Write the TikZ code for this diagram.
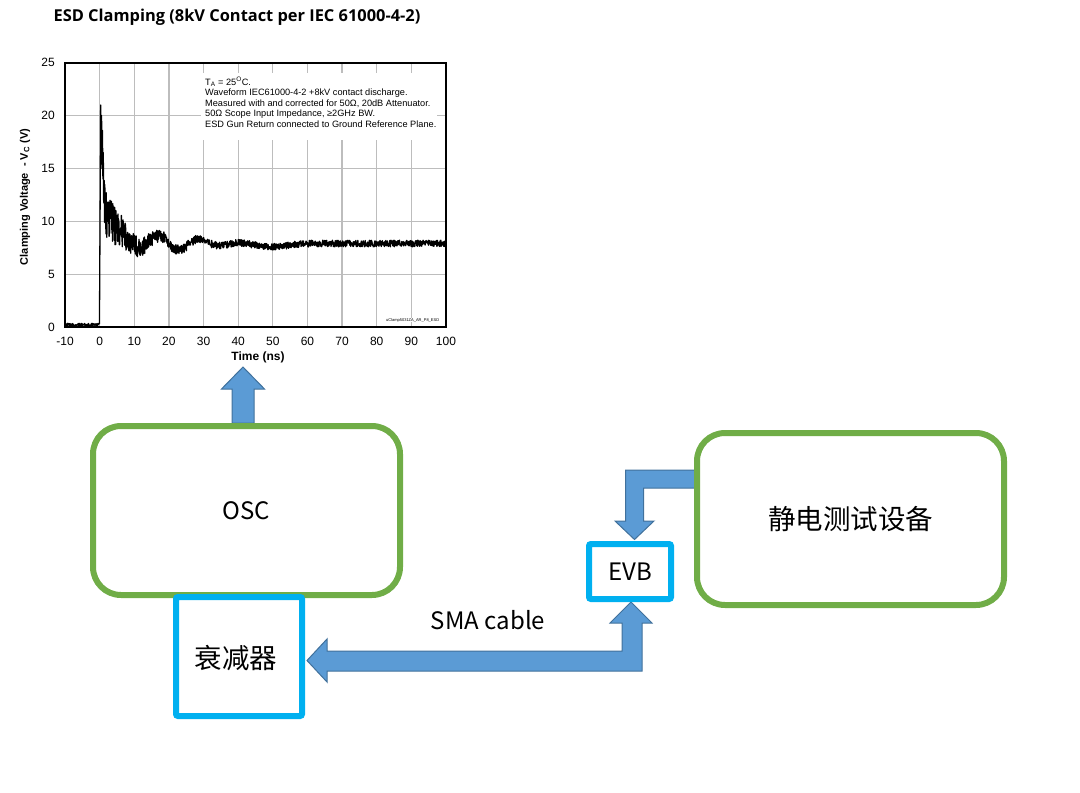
\documentclass[tikz,border=0pt]{standalone}
\usepackage{fontspec}
\setmainfont{Liberation Sans}
\newfontfamily\titlefont{Open Sans}
\newfontfamily\cjk{Noto Sans CJK SC}
\usetikzlibrary{calc}
\definecolor{boxgreen}{HTML}{70AD47}
\definecolor{boxcyan}{HTML}{00B0F0}
\definecolor{arrowfill}{HTML}{5B9BD5}
\definecolor{arrowline}{HTML}{41719C}
\definecolor{gridgray}{HTML}{BDBDBD}
\begin{document}
\begin{tikzpicture}[x=1pt,y=-1pt,
  greenbox/.style={draw=boxgreen, line width=6pt, rounded corners=28pt, fill=white, inner sep=0pt},
  cyanbox/.style={draw=boxcyan, line width=6pt, fill=white, rounded corners=2pt, inner sep=0pt},
  blockarrow/.style={fill=arrowfill, draw=arrowline, line width=1pt, line join=miter},
  lbl/.style={font=\cjk\fontsize{24}{28}\selectfont},
  cjklbl/.style={font=\cjk\fontsize{27.5}{32}\selectfont},
  ticklbl/.style={font=\fontsize{12}{14}\selectfont, inner sep=0pt},
  note/.style={font=\fontsize{9.2}{10.5}\selectfont, align=left, inner sep=0pt},
  gridline/.style={draw=gridgray, line width=1.2pt},
]
\useasboundingbox (0,0) rectangle (1080,793);

% ---------- title ----------
\node[font=\titlefont\bfseries\fontsize{16.4}{19}\selectfont] (title) at (237,17)
  {ESD Clamping (8kV Contact per IEC 61000-4-2)};

% ---------- chart ----------
\begin{scope}[shift={(99.64,327)}, x=3.4636pt, y=10.57pt]
  \foreach \t in {0,10,...,90} \draw[gridline] (\t,0) -- (\t,25);
  \foreach \v in {5,10,15,20} \draw[gridline] (-10,\v) -- (100,\v);
  \foreach \v in {0,5,...,25} \node[ticklbl, anchor=east, xshift=-10pt] at (-10,\v) {\v};
  \foreach \t in {-10,0,...,100} \node[ticklbl, yshift=-14pt] at (\t,0) {\t};
\end{scope}

\fill[white] (201,73) rectangle (437,140);
\node[note, anchor=north west] (note) at (205,76.5)
  {T\textsubscript{A} = 25\textsuperscript{O}C.\\
   Waveform IEC61000-4-2 +8kV contact discharge.\\
   Measured with and corrected for 50Ω, 20dB Attenuator.\\
   50Ω Scope Input Impedance, ≥2GHz BW.\\
   ESD Gun Return connected to Ground Reference Plane.};

\node[font=\fontsize{4}{5}\selectfont, fill=white, inner sep=0.6pt, anchor=east] (code) at (440,320)
  {uClamp5031ZA\_AR\_P8\_ESD};

\begin{scope}[shift={(99.64,327)}, x=3.4636pt, y=10.57pt]
  \pgfmathsetseed{12}
  \draw[line width=1.3pt, line join=round]
    plot[domain=-10:-0.3, samples=90] (\x,{0.2+0.15*rand})
    -- (-0.05,0.3) -- (0.3,21) -- (0.45,16) -- (0.55,20) -- (0.7,15) -- (0.8,18.6)
    -- (0.95,14) -- (1.05,16.5) -- (1.15,12)
    -- plot[domain=1.25:100, samples=1200]
      (\x,{7.9 + 4*exp(max(-\x/4,-9)) + 6*exp(max(-\x/0.7,-9))
        + 0.7*exp(max(-(((\x-17)/16)^2),-9))*sin(30*(\x-14))
        - 0.3*exp(max(-(((\x-50)/6)^2),-9))
        + (0.32+2.6*exp(max(-\x/8,-9)))*rand});
\end{scope}

\node[draw, line width=2.4pt, minimum width=381pt, minimum height=264.3pt, inner sep=0pt] (plot) at (255.5,194.85) {};

\node[font=\bfseries\fontsize{12}{14}\selectfont] (xlab) at (258,357) {Time (ns)};
\node[font=\bfseries\fontsize{11}{13}\selectfont, rotate=90] (ylab) at (25,197)
  {Clamping Voltage\ \ - V\textsubscript{C} (V)};

% ---------- arrows (drawn under boxes) ----------
\draw[blockarrow] (232,423) -- (232,389) -- (221.5,389) -- (243,367) -- (264.5,389)
  -- (254,389) -- (254,423) -- cycle;
\draw[blockarrow] (699,470) -- (625.5,470) -- (625.5,521) -- (615,521) -- (634.5,539.5)
  -- (654,521) -- (643.5,521) -- (643.5,488) -- (699,488) -- cycle;
\draw[blockarrow] (307,660.5) -- (327,639) -- (327,651) -- (622,651) -- (622,623)
  -- (610,623) -- (631,602) -- (652,623) -- (642,623) -- (642,671) -- (327,671)
  -- (327,682) -- cycle;

% ---------- boxes ----------
\node[greenbox, lbl, minimum width=307pt, minimum height=169pt] (osc) at (246.5,510.5) {OSC};
\node[greenbox, cjklbl, minimum width=307pt, minimum height=172pt] (tester) at (850.5,519) {静电测试设备};
\node[cyanbox, cjklbl, minimum width=126pt, minimum height=119pt] (att) at (239,656.5) {};
\node[cjklbl] (attlbl) at (236,658) {衰减器};
\node[cyanbox, lbl, minimum width=82pt, minimum height=55pt] (evb) at (630,571.5) {EVB};

\node[lbl] (sma) at (488,620) {SMA cable};
\end{tikzpicture}
\end{document}
